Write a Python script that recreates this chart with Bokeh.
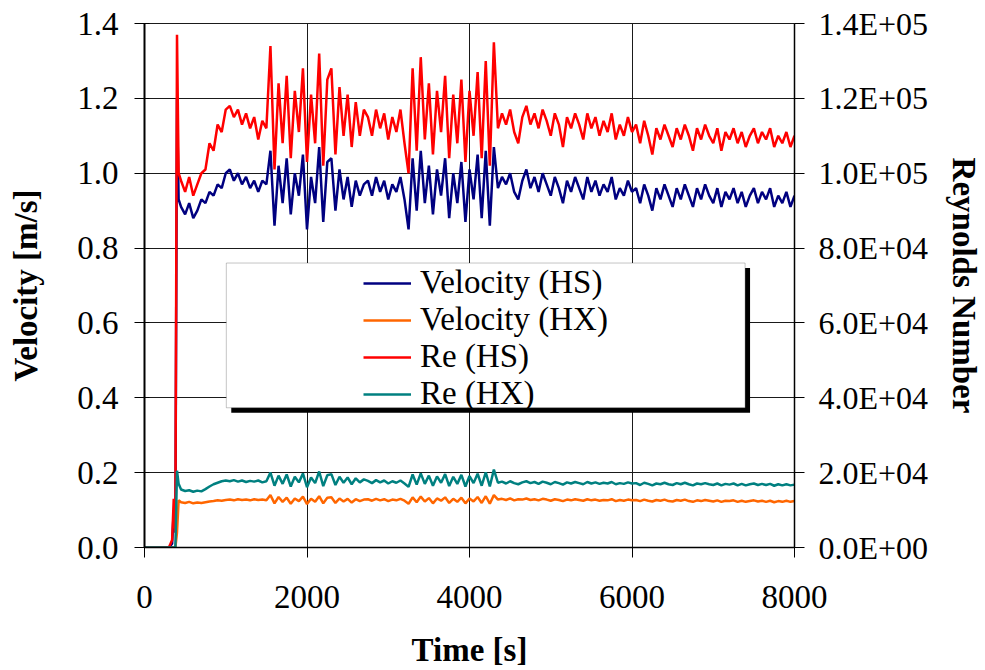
from bokeh.plotting import figure
from bokeh.models import (Range1d, LinearAxis, FixedTicker, NumeralTickFormatter,
                          Legend, LegendItem, BoxAnnotation)
from bokeh.embed import file_html
from bokeh.resources import INLINE

# ---------------- data ----------------
time_s = [0, 100, 200, 300, 340, 360, 380, 400, 420] + list(range(450, 8001, 50))

velocity_hs = [
    0, 0, 0, 0, 0.01, 0.10, 0.04, 1.20, 0.93,
    0.91, 0.89, 0.92, 0.88, 0.90, 0.93,
    0.92, 0.95, 0.94, 0.97, 0.96, 1.00,
    1.01, 0.98, 1.00, 0.97, 0.99, 0.96, 0.98, 0.95, 0.98, 0.97,
    1.06, 0.86, 1.02, 0.92, 1.04, 0.89, 1.00, 0.94, 1.05, 0.85, 0.99, 0.92,
    1.07, 0.87, 1.03, 1.04, 0.90, 1.01, 0.93, 0.99, 0.91, 0.98, 0.94, 0.97,
    0.98, 0.94, 0.99, 0.95, 0.98, 0.93, 0.97, 0.95, 0.99, 0.93,
    0.85, 1.04, 0.90, 1.06, 0.92, 1.02, 0.89, 1.01, 0.94, 1.04, 0.88,
    1.00, 0.92, 1.03, 0.87, 1.01, 0.93, 1.05, 0.88, 1.06, 0.86, 1.07,
    0.96, 0.99, 0.97, 1.00, 0.95, 0.93, 0.98, 1.01, 0.96, 0.99,
    0.95, 1.00, 0.97, 0.94, 0.99, 0.96, 0.92, 0.98, 0.95, 0.99,
    0.96, 0.93, 0.99, 0.95, 0.98, 0.94, 0.97, 0.95, 0.99, 0.93,
    0.96, 0.94, 0.98, 0.95, 0.96, 0.92, 0.97, 0.94, 0.90, 0.96,
    0.93, 0.97, 0.94, 0.91, 0.96, 0.93, 0.97, 0.94, 0.91, 0.96,
    0.93, 0.97, 0.94, 0.92, 0.96, 0.91, 0.95, 0.93, 0.96, 0.92,
    0.95, 0.91, 0.94, 0.96, 0.92, 0.95, 0.93, 0.96, 0.91, 0.94,
    0.92, 0.95, 0.91, 0.94,
]

velocity_hx = [
    0, 0, 0, 0, 0, 0, 0, 0.040, 0.126,
    0.121, 0.119, 0.122, 0.118, 0.120, 0.119,
    0.121, 0.123, 0.124, 0.126, 0.125, 0.127,
    0.128, 0.126, 0.129, 0.127, 0.128, 0.126, 0.129, 0.127, 0.128, 0.126,
    0.140, 0.118, 0.135, 0.122, 0.133, 0.117, 0.131, 0.124, 0.136, 0.116, 0.130, 0.122,
    0.137, 0.118, 0.133, 0.134, 0.119, 0.131, 0.123, 0.130, 0.120, 0.129, 0.124, 0.128,
    0.129, 0.125, 0.130, 0.126, 0.129, 0.124, 0.128, 0.126, 0.130, 0.125,
    0.117, 0.134, 0.121, 0.136, 0.123, 0.132, 0.118, 0.131, 0.125, 0.134, 0.119,
    0.130, 0.122, 0.133, 0.118, 0.131, 0.123, 0.135, 0.119, 0.137, 0.117, 0.140,
    0.128, 0.130, 0.127, 0.131, 0.126, 0.129, 0.128, 0.131, 0.127, 0.129,
    0.126, 0.130, 0.128, 0.125, 0.129, 0.127, 0.124, 0.128, 0.126, 0.129,
    0.127, 0.125, 0.129, 0.126, 0.128, 0.125, 0.127, 0.126, 0.129, 0.124,
    0.127, 0.125, 0.128, 0.126, 0.127, 0.124, 0.128, 0.125, 0.123, 0.127,
    0.125, 0.128, 0.124, 0.123, 0.127, 0.125, 0.128, 0.124, 0.122, 0.126,
    0.124, 0.127, 0.125, 0.123, 0.126, 0.122, 0.125, 0.124, 0.126, 0.122,
    0.125, 0.122, 0.124, 0.126, 0.123, 0.125, 0.122, 0.125, 0.121, 0.124,
    0.122, 0.125, 0.122, 0.124,
]

re_hs = [
    0, 0, 0, 0, 2e3, 13e3, 4e3, 137e3, 100e3,
    98e3, 95e3, 99e3, 94e3, 97e3, 100e3,
    101e3, 108e3, 106e3, 113e3, 111e3, 117e3,
    118e3, 115e3, 117e3, 113e3, 116e3, 112e3, 115e3, 109e3, 114e3, 112e3,
    134e3, 101e3, 124e3, 108e3, 126e3, 104e3, 122e3, 111e3, 128e3, 103e3, 121e3, 108e3,
    132e3, 102e3, 125e3, 128e3, 105e3, 123e3, 110e3, 121e3, 107e3, 119e3, 110e3, 117e3,
    115e3, 110e3, 117e3, 112e3, 116e3, 109e3, 115e3, 111e3, 117e3, 108e3,
    100e3, 128e3, 106e3, 131e3, 109e3, 124e3, 105e3, 122e3, 111e3, 126e3, 104e3,
    121e3, 108e3, 125e3, 103e3, 122e3, 110e3, 127e3, 104e3, 130e3, 102e3, 135e3,
    112e3, 116e3, 113e3, 117e3, 111e3, 108e3, 115e3, 118e3, 113e3, 116e3,
    112e3, 117e3, 114e3, 110e3, 116e3, 113e3, 107e3, 115e3, 112e3, 116e3,
    113e3, 109e3, 116e3, 112e3, 115e3, 110e3, 114e3, 111e3, 116e3, 109e3,
    113e3, 110e3, 115e3, 111e3, 113e3, 108e3, 114e3, 110e3, 105e3, 112e3,
    109e3, 113e3, 110e3, 107e3, 112e3, 109e3, 113e3, 110e3, 106e3, 112e3,
    109e3, 113e3, 110e3, 108e3, 112e3, 106e3, 111e3, 109e3, 112e3, 108e3,
    111e3, 107e3, 110e3, 112e3, 108e3, 111e3, 109e3, 112e3, 107e3, 110e3,
    108e3, 111e3, 107e3, 110e3,
]

re_hx = [
    0, 0, 0, 0, 0, 0, 0, 20.5e3, 17.0e3,
    15.5e3, 15.1e3, 15.3e3, 14.9e3, 15.2e3, 15.0e3,
    15.6e3, 16.3e3, 16.9e3, 17.3e3, 17.7e3, 17.9e3,
    17.7e3, 18.0e3, 17.6e3, 17.9e3, 17.5e3, 17.8e3, 17.6e3, 17.9e3, 17.4e3, 17.7e3,
    20.0e3, 16.5e3, 19.2e3, 17.0e3, 19.5e3, 16.3e3, 18.9e3, 17.4e3, 19.8e3, 16.1e3, 18.7e3, 17.2e3,
    20.3e3, 16.4e3, 19.3e3, 19.6e3, 16.7e3, 18.9e3, 17.3e3, 18.7e3, 16.9e3, 18.5e3, 17.4e3, 18.2e3,
    17.8e3, 17.2e3, 18.0e3, 17.4e3, 17.9e3, 17.1e3, 17.7e3, 17.3e3, 17.9e3, 17.1e3,
    16.2e3, 19.5e3, 16.8e3, 19.8e3, 17.0e3, 19.2e3, 16.5e3, 19.0e3, 17.3e3, 19.6e3, 16.4e3,
    18.9e3, 17.0e3, 19.4e3, 16.3e3, 19.1e3, 17.2e3, 19.7e3, 16.5e3, 20.1e3, 16.3e3, 20.8e3,
    17.3e3, 17.6e3, 17.1e3, 17.7e3, 17.2e3, 16.9e3, 17.4e3, 17.7e3, 17.2e3, 17.5e3,
    17.0e3, 17.6e3, 17.3e3, 16.9e3, 17.5e3, 17.2e3, 16.8e3, 17.4e3, 17.1e3, 17.5e3,
    17.2e3, 16.9e3, 17.5e3, 17.1e3, 17.4e3, 17.0e3, 17.3e3, 17.1e3, 17.5e3, 16.9e3,
    17.2e3, 17.0e3, 17.4e3, 17.1e3, 17.2e3, 16.7e3, 17.3e3, 17.0e3, 16.6e3, 17.1e3,
    16.9e3, 17.3e3, 16.9e3, 16.7e3, 17.2e3, 16.9e3, 17.3e3, 16.9e3, 16.6e3, 17.1e3,
    16.9e3, 17.2e3, 16.9e3, 16.7e3, 17.1e3, 16.6e3, 17.0e3, 16.8e3, 17.1e3, 16.6e3,
    17.0e3, 16.6e3, 16.9e3, 17.1e3, 16.7e3, 17.0e3, 16.7e3, 17.0e3, 16.5e3, 16.9e3,
    16.6e3, 16.9e3, 16.6e3, 16.8e3,
]

series_labels = ["Velocity (HS)", "Velocity (HX)", "Re (HS)", "Re (HX)"]
series_colors = ["#000080", "#FF6600", "#FF0000", "#008080"]

x_ticks = [0, 2000, 4000, 6000, 8000]
vel_ticks = [0.0, 0.2, 0.4, 0.6, 0.8, 1.0, 1.2, 1.4]
re_ticks = [0, 20000, 40000, 60000, 80000, 100000, 120000, 140000]
re_tick_labels = ["0.0E+00", "2.0E+04", "4.0E+04", "6.0E+04",
                  "8.0E+04", "1.0E+05", "1.2E+05", "1.4E+05"]

# legend frame (data coordinates of the boxed legend area and its shadow)
legend_box = dict(left=1007, right=7392, top=0.760, bottom=0.3733)
legend_shadow = dict(left=1068, right=7453, top=0.7467, bottom=0.360)

FONT = "Liberation Serif"
FS = "33px"

# ---------------- figure ----------------
p = figure(width=985, height=670, output_backend="svg", toolbar_location=None,
           x_range=Range1d(0, 8000), y_range=Range1d(0, 1.4),
           min_border_left=144, min_border_right=190,
           min_border_top=23, min_border_bottom=122,
           background_fill_color="white", border_fill_color="white")
p.extra_y_ranges = {"re": Range1d(0, 140000)}
p.outline_line_color = "#1a1a1a"
p.outline_line_width = 1

for g, tk in ((p.xgrid[0], x_ticks), (p.ygrid[0], vel_ticks)):
    g.ticker = FixedTicker(ticks=tk)
    g.grid_line_color = "#1a1a1a"
    g.grid_line_width = 1

def style_axis(ax):
    ax.major_label_text_font = FONT
    ax.major_label_text_font_size = FS
    ax.major_label_text_color = "black"
    ax.axis_label_text_font = FONT
    ax.axis_label_text_font_size = FS
    ax.axis_label_text_font_style = "bold"
    ax.axis_label_text_color = "black"
    ax.minor_tick_line_color = None
    ax.major_tick_line_color = "black"
    ax.axis_line_color = "black"

xa = p.xaxis[0]
style_axis(xa)
xa.ticker = FixedTicker(ticks=x_ticks)
xa.axis_label = "Time [s]"
xa.major_tick_out = 10
xa.major_tick_in = 0
xa.axis_line_width = 1.5
xa.major_label_standoff = 28
xa.axis_label_standoff = 21

ya = p.yaxis[0]
style_axis(ya)
ya.ticker = FixedTicker(ticks=vel_ticks)
ya.formatter = NumeralTickFormatter(format="0.0")
ya.axis_label = "Velocity [m/s]"
ya.major_tick_out = 10
ya.major_tick_in = 5
ya.axis_line_width = 2
ya.major_label_standoff = 16
ya.axis_label_standoff = 30

ra = LinearAxis(y_range_name="re", ticker=FixedTicker(ticks=re_ticks),
                major_label_overrides=dict(zip(re_ticks, re_tick_labels)),
                axis_label="Reynolds Number")
style_axis(ra)
ra.major_label_text_font_size = "32px"
ra.major_tick_out = 10
ra.major_tick_in = 0
ra.axis_line_width = 1.5
ra.major_label_standoff = 14
ra.axis_label_standoff = 15
p.add_layout(ra, "right")

# ---------------- lines ----------------
r1 = p.line(time_s, velocity_hs, line_color=series_colors[0], line_width=2.5)
r2 = p.line(time_s, velocity_hx, line_color=series_colors[1], line_width=2.5)
r3 = p.line(time_s, re_hs, line_color=series_colors[2], line_width=2.5, y_range_name="re")
r4 = p.line(time_s, re_hx, line_color=series_colors[3], line_width=2.5, y_range_name="re")

# ---------------- legend ----------------
shadow = BoxAnnotation(fill_color="black", fill_alpha=1.0, line_color=None, **legend_shadow)
box = BoxAnnotation(fill_color="white", fill_alpha=1.0, line_color="#404040",
                    line_width=1, **legend_box)
p.add_layout(shadow)
p.add_layout(box)

legend = Legend(items=[LegendItem(label=lab, renderers=[r])
                       for lab, r in zip(series_labels, [r1, r2, r3, r4])],
                location=(219, 135), padding=0, margin=0, spacing=-4,
                glyph_width=48, glyph_height=30, label_height=30, label_standoff=9,
                label_text_font=FONT, label_text_font_size=FS,
                label_text_color="black",
                border_line_color=None, background_fill_alpha=0.0)
p.add_layout(legend)

open("out.html", "w").write(file_html(p, INLINE))
